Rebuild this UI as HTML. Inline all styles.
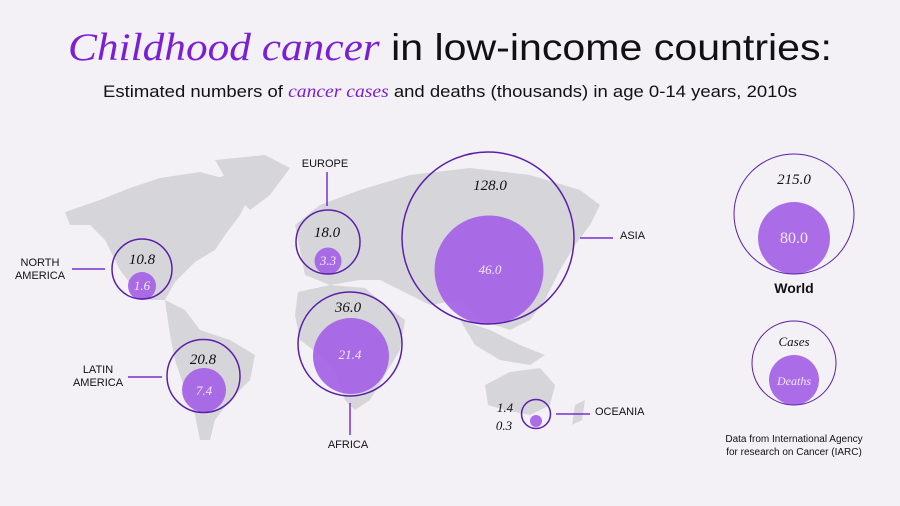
<!DOCTYPE html>
<html><head><meta charset="utf-8"><style>
body{margin:0;background:#f3f1f6;}
svg{display:block;font-family:"Liberation Sans",sans-serif;}
.it{font-family:"Liberation Serif",serif;font-style:italic;}
</style></head><body>
<svg width="900" height="506" viewBox="0 0 900 506">
<rect width="900" height="506" fill="#f3f1f6"/>
<text x="68" y="60" font-size="37" fill="#111" textLength="764" lengthAdjust="spacingAndGlyphs"><tspan class="it" fill="#7a1fd6" font-size="39">Childhood cancer</tspan> in low-income countries:</text>
<text x="103" y="97" font-size="17" fill="#111" textLength="694" lengthAdjust="spacingAndGlyphs">Estimated numbers of <tspan class="it" fill="#7a1fd6" font-size="18">cancer cases</tspan> and deaths (thousands) in age 0-14 years, 2010s</text>
<g fill="#d6d6da">
<path d="M65 212 L100 200 L130 188 L160 178 L200 172 L230 180 L250 195 L240 215 L225 235 L215 250 L195 262 L175 282 L165 300 L150 300 L135 290 L120 270 L105 240 L90 225 L70 225Z"/>
<path d="M210 180 L250 168 L270 180 L255 200 L230 195Z"/>
<path d="M215 160 L265 155 L290 168 L270 195 L250 210 L235 195Z"/>
<path d="M165 300 L185 310 L200 330 L230 340 L255 355 L250 380 L230 400 L215 420 L210 440 L200 440 L195 415 L185 390 L175 360 L170 335Z"/>
<path d="M295 225 L320 205 L360 190 L410 175 L470 168 L530 175 L580 190 L600 205 L590 225 L575 245 L560 270 L545 300 L530 320 L510 330 L480 320 L460 300 L430 305 L400 290 L380 280 L360 280 L330 285 L305 275 L300 250Z"/>
<path d="M298 292 L330 285 L365 288 L385 305 L405 320 L400 350 L385 375 L370 400 L355 410 L345 400 L335 370 L320 355 L300 340 L295 315Z"/>
<path d="M460 320 L490 330 L520 345 L545 355 L530 365 L500 360 L475 345Z"/>
<path d="M485 385 L510 372 L540 368 L555 385 L550 405 L530 415 L505 410 L488 405Z"/>
<path d="M575 405 L585 400 L582 420 L572 425Z"/>
</g>
<g stroke="#7a2fd0" stroke-width="1.5">
<line x1="72" y1="269" x2="105" y2="269"/>
<line x1="128" y1="377" x2="162" y2="377"/>
<line x1="327" y1="172" x2="327" y2="206"/>
<line x1="350" y1="403" x2="350" y2="435"/>
<line x1="580" y1="238" x2="613" y2="238"/>
<line x1="556" y1="414" x2="590" y2="414"/>
</g>
<g fill="#a35ee6" fill-opacity="0.9">
<circle cx="142" cy="286" r="14"/>
<circle cx="204" cy="390" r="22"/>
<circle cx="328" cy="261" r="13.5"/>
<circle cx="351" cy="356" r="38"/>
<circle cx="489" cy="270" r="54.5"/>
<circle cx="536" cy="421" r="6"/>
<circle cx="794" cy="238" r="36"/>
<circle cx="794" cy="380" r="25"/>
</g>
<g fill="none" stroke="#5a1fa8" stroke-width="1.5">
<circle cx="142" cy="269" r="30"/>
<circle cx="203.5" cy="376" r="36.5"/>
<circle cx="328" cy="242" r="32"/>
<circle cx="350" cy="344" r="52"/>
<circle cx="488" cy="238" r="86"/>
<circle cx="536" cy="414" r="14.5"/>
<circle cx="794" cy="214" r="60" stroke-width="1"/>
<circle cx="794" cy="363" r="42" stroke-width="1"/>
</g>
<g class="it" font-size="15" fill="#111" text-anchor="middle">
<text x="142" y="264">10.8</text>
<text x="203" y="364">20.8</text>
<text x="327" y="237">18.0</text>
<text x="348" y="312">36.0</text>
<text x="490" y="190">128.0</text>
<text x="794" y="184">215.0</text>
<text x="505" y="412" font-size="13">1.4</text>
<text x="504" y="430" font-size="13">0.3</text>
<text x="794" y="346" font-size="13">Cases</text>
</g>
<g class="it" font-size="13" fill="#f3e8ff" text-anchor="middle">
<text x="142" y="290">1.6</text>
<text x="204" y="395">7.4</text>
<text x="328" y="265">3.3</text>
<text x="350" y="359">21.4</text>
<text x="490" y="274">46.0</text>
<text x="794" y="385" font-size="12">Deaths</text>
</g>
<text x="794" y="243" text-anchor="middle" font-size="16" font-family="Liberation Serif,serif" fill="#f3e8ff">80.0</text>
<g font-size="11" fill="#111">
<text x="40" y="266" text-anchor="middle">NORTH</text>
<text x="40" y="279" text-anchor="middle">AMERICA</text>
<text x="98" y="373" text-anchor="middle">LATIN</text>
<text x="98" y="386" text-anchor="middle">AMERICA</text>
<text x="325" y="167" text-anchor="middle">EUROPE</text>
<text x="348" y="448" text-anchor="middle">AFRICA</text>
<text x="620" y="239">ASIA</text>
<text x="595" y="415">OCEANIA</text>
</g>
<text x="794" y="293" text-anchor="middle" font-size="14" font-weight="bold" fill="#111">World</text>
<text x="794" y="442" text-anchor="middle" font-size="10" fill="#111">Data from International Agency</text>
<text x="794" y="455" text-anchor="middle" font-size="10" fill="#111">for research on Cancer (IARC)</text>
</svg>
</body></html>
